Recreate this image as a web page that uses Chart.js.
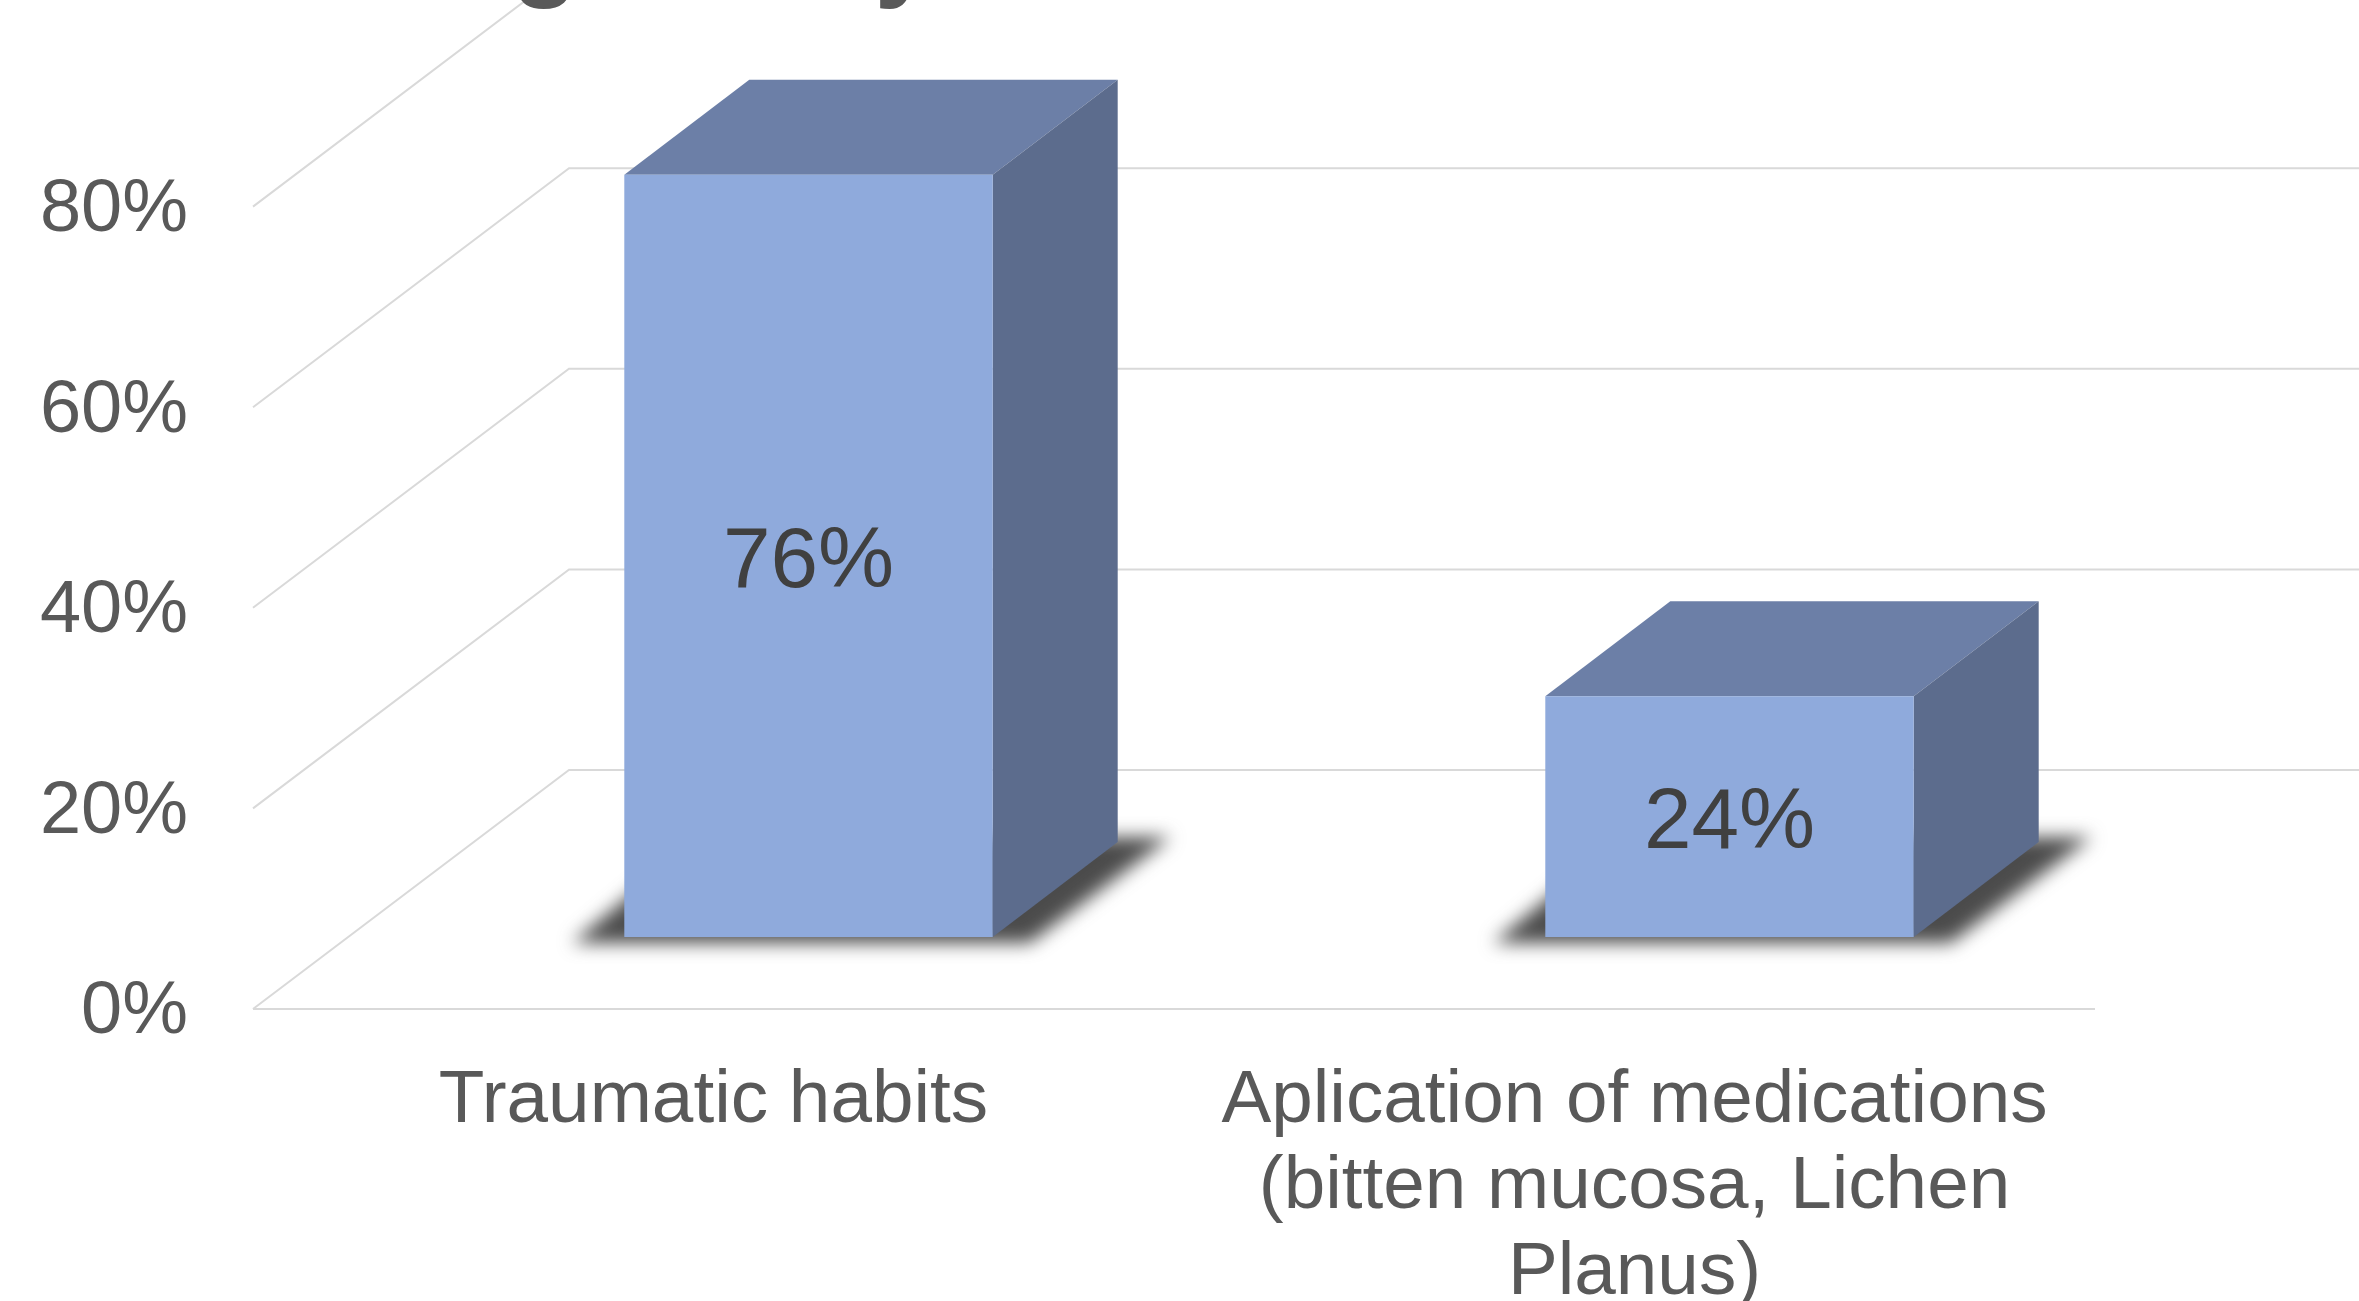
<!DOCTYPE html>
<html>
<head>
<meta charset="utf-8">
<title>Chart</title>
<script src="https://cdn.jsdelivr.net/npm/chart.js@4"></script>
<style>
    html, body { margin: 0; padding: 0; background: #ffffff; overflow: hidden; }
    canvas { display: block; }
</style>
</head>
<body>
<canvas id="chart" width="2359" height="1301" style="width:2359px;height:1301px"></canvas>
<script>
const categories = [
    'Traumatic habits',
    ['Aplication of medications', '(bitten mucosa, Lichen', 'Planus)']
];
const values = [76, 24];
const yTicks = [0, 20, 40, 60, 80];
// le titre est coupe par le bord de l'image, seuls ces jambages restent visibles
const titleFragments = ['g', 'y'];

// profondeur de la "boite" 3D, en pixels
const FLOOR_DX = 316, FLOOR_DY = 239;   // du bord avant au mur du fond
const BAR_SHIFT_X = 95, BAR_SHIFT_Y = 72; // position de la barre sur le sol
const BAR_DX = 125, BAR_DY = 95;        // profondeur de la barre

const FONT = '"Liberation Sans", Arial, sans-serif';

// Sol, murs et lignes de grille en perspective
const gridBox = {
    id: 'gridBox',
    beforeDatasetsDraw(chart) {
        const { ctx, chartArea: area, scales: { y } } = chart;
        ctx.save();
        ctx.strokeStyle = '#d9d9d9';
        ctx.lineWidth = 2;
        yTicks.forEach(v => {
            const py = y.getPixelForValue(v);
            ctx.beginPath();
            ctx.moveTo(area.left, py);
            ctx.lineTo(area.left + FLOOR_DX, py - FLOOR_DY);
            ctx.lineTo(area.right + FLOOR_DX, py - FLOOR_DY);
            ctx.stroke();
        });
        const y0 = y.getPixelForValue(0);
        ctx.beginPath();
        ctx.moveTo(area.left, y0);
        ctx.lineTo(area.right, y0);
        ctx.stroke();

        // ce qui reste du titre
        ctx.fillStyle = '#595959';
        ctx.font = 'bold 110px ' + FONT;
        ctx.textAlign = 'center';
        ctx.textBaseline = 'alphabetic';
        ctx.fillText(titleFragments[0], 545, -14);
        ctx.fillText(titleFragments[1], 905, -14);
        ctx.restore();
    }
};

// Ombre et faces du dessus / de droite de chaque barre,
// la face avant reste dessinee par Chart.js (decalee sur le sol)
const box3d = {
    id: 'box3d',
    beforeDatasetDraw(chart, args) {
        const { ctx } = chart;
        const bars = chart.getDatasetMeta(args.index).data;
        ctx.save();
        ctx.translate(BAR_SHIFT_X, -BAR_SHIFT_Y);
        bars.forEach(bar => {
            const left = bar.x - bar.width / 2;
            const right = bar.x + bar.width / 2;
            const top = bar.y;
            const base = bar.base;

            ctx.save();
            ctx.filter = 'blur(9px)';
            ctx.fillStyle = 'rgba(60,60,60,0.92)';
            ctx.beginPath();
            ctx.moveTo(left - 52, base + 6);
            ctx.lineTo(right + 37, base + 6);
            ctx.lineTo(right + 178, base - 100);
            ctx.lineTo(left + 76, base - 100);
            ctx.closePath();
            ctx.fill();
            ctx.restore();

            // dessus
            ctx.fillStyle = '#6c7fa7';
            ctx.beginPath();
            ctx.moveTo(left, top);
            ctx.lineTo(left + BAR_DX, top - BAR_DY);
            ctx.lineTo(right + BAR_DX, top - BAR_DY);
            ctx.lineTo(right, top);
            ctx.closePath();
            ctx.fill();

            // cote droit
            ctx.fillStyle = '#5c6c8d';
            ctx.beginPath();
            ctx.moveTo(right, top);
            ctx.lineTo(right + BAR_DX, top - BAR_DY);
            ctx.lineTo(right + BAR_DX, base - BAR_DY);
            ctx.lineTo(right, base);
            ctx.closePath();
            ctx.fill();
        });
    },
    afterDatasetDraw(chart, args) {
        const { ctx } = chart;
        const bars = chart.getDatasetMeta(args.index).data;
        ctx.fillStyle = '#404040';
        ctx.font = '85.5px ' + FONT;
        ctx.textAlign = 'center';
        ctx.textBaseline = 'middle';
        bars.forEach((bar, i) => {
            ctx.fillText(values[i] + '%', bar.x, (bar.y + bar.base) / 2 + 8);
        });
        ctx.restore();
    }
};

new Chart(document.getElementById('chart'), {
    type: 'bar',
    data: {
        labels: categories,
        datasets: [{
            data: values,
            backgroundColor: '#8faadc',
            borderWidth: 0,
            barPercentage: 0.4,
            categoryPercentage: 1
        }]
    },
    options: {
        responsive: false,
        devicePixelRatio: 1,
        animation: false,
        layout: { padding: { top: 6, right: 264, left: 0, bottom: 0 } },
        plugins: {
            legend: { display: false },
            tooltip: { enabled: false }
        },
        scales: {
            x: {
                grid: { display: false },
                border: { display: false },
                ticks: {
                    color: '#595959',
                    font: { family: FONT, size: 74.7, lineHeight: 1.147 },
                    padding: 42,
                    maxRotation: 0,
                    autoSkip: false
                },
                afterFit(axis) { axis.height = 292; }
            },
            y: {
                min: 0,
                max: 100,
                grid: { display: false, drawTicks: false },
                border: { display: false },
                ticks: {
                    color: '#595959',
                    font: { family: FONT, size: 74 },
                    padding: 65,
                    labelOffset: 4,
                    callback: v => v + '%'
                },
                afterBuildTicks(axis) { axis.ticks = yTicks.map(v => ({ value: v })); },
                afterFit(axis) {
                    axis.width = 253;
                    axis.paddingTop = 0;
                    axis.paddingBottom = 0;
                }
            }
        }
    },
    plugins: [gridBox, box3d]
});
</script>
</body>
</html>
